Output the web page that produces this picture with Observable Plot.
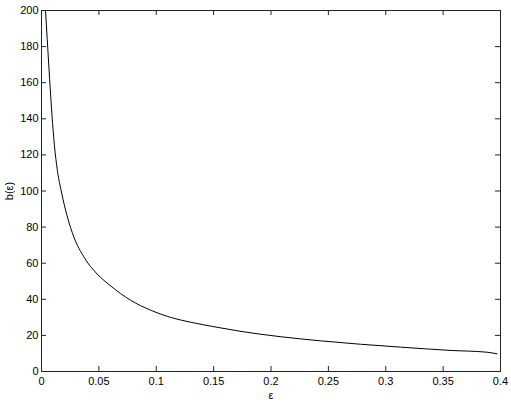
<!DOCTYPE html>
<html>
<head>
<meta charset="utf-8">
<script src="https://cdn.jsdelivr.net/npm/d3@7"></script>
<script src="https://cdn.jsdelivr.net/npm/@observablehq/plot@0.6"></script>
<style>
  html, body { margin: 0; padding: 0; background: #fff; }
  #chart { width: 511px; height: 402px; }
  svg { font-family: "Liberation Sans", Arial, Helvetica, sans-serif; }
</style>
</head>
<body>
<div id="chart"></div>
<script>
const epsilon = [0.0035, 0.005, 0.0065, 0.0087, 0.0113, 0.0137, 0.0172, 0.0224, 0.0282, 0.0369, 0.0485, 0.0601, 0.0776, 0.095, 0.1124, 0.13, 0.153, 0.173, 0.208, 0.243, 0.278, 0.313, 0.356, 0.388, 0.397];
const bValues = [200, 184, 168, 146, 125, 112, 100, 86, 74.5, 63.5, 54, 47.5, 39.5, 34, 30, 27.3, 24.5, 22.3, 19.3, 17, 15.1, 13.5, 11.7, 10.7, 9.8];
const xTicks = [0, 0.05, 0.1, 0.15, 0.2, 0.25, 0.3, 0.35, 0.4];
const yTicks = [0, 20, 40, 60, 80, 100, 120, 140, 160, 180, 200];

const data = epsilon.map((e, i) => ({e, b: bValues[i]}));

const W = 511, H = 402;
const mL = 41, mR = 11, mT = 10, mB = 31;
const innerW = W - mL - mR, innerH = H - mT - mB;
const tk = 5;

const chart = Plot.plot({
  width: W,
  height: H,
  marginLeft: mL,
  marginRight: mR,
  marginTop: mT,
  marginBottom: mB,
  style: {fontSize: "11px", fontFamily: "'Liberation Sans', Arial, Helvetica, sans-serif", color: "#000", background: "#fff"},
  x: {domain: [0, 0.4]},
  y: {domain: [0, 200]},
  marks: [
    Plot.frame({stroke: "#222"}),
    Plot.tickX(xTicks, {x: d => d, insetTop: innerH - tk, stroke: "#222"}),
    Plot.tickX(xTicks, {x: d => d, insetBottom: innerH - tk, stroke: "#222"}),
    Plot.tickY(yTicks, {y: d => d, insetRight: innerW - tk, stroke: "#222"}),
    Plot.tickY(yTicks, {y: d => d, insetLeft: innerW - tk, stroke: "#222"}),
    Plot.axisX(xTicks, {tickSize: 0, tickPadding: 6, tickFormat: d => String(d), label: "ε", labelAnchor: "center", labelArrow: "none", labelOffset: 27}),
    Plot.axisY(yTicks, {tickSize: 0, tickPadding: 3, tickFormat: d => String(d), label: "b(ε)", labelAnchor: "center", labelArrow: "none", labelOffset: 36}),
    Plot.line(data, {x: "e", y: "b", stroke: "#000", strokeWidth: 1, curve: "monotone-x"})
  ]
});
document.getElementById("chart").appendChild(chart);
</script>
</body>
</html>
